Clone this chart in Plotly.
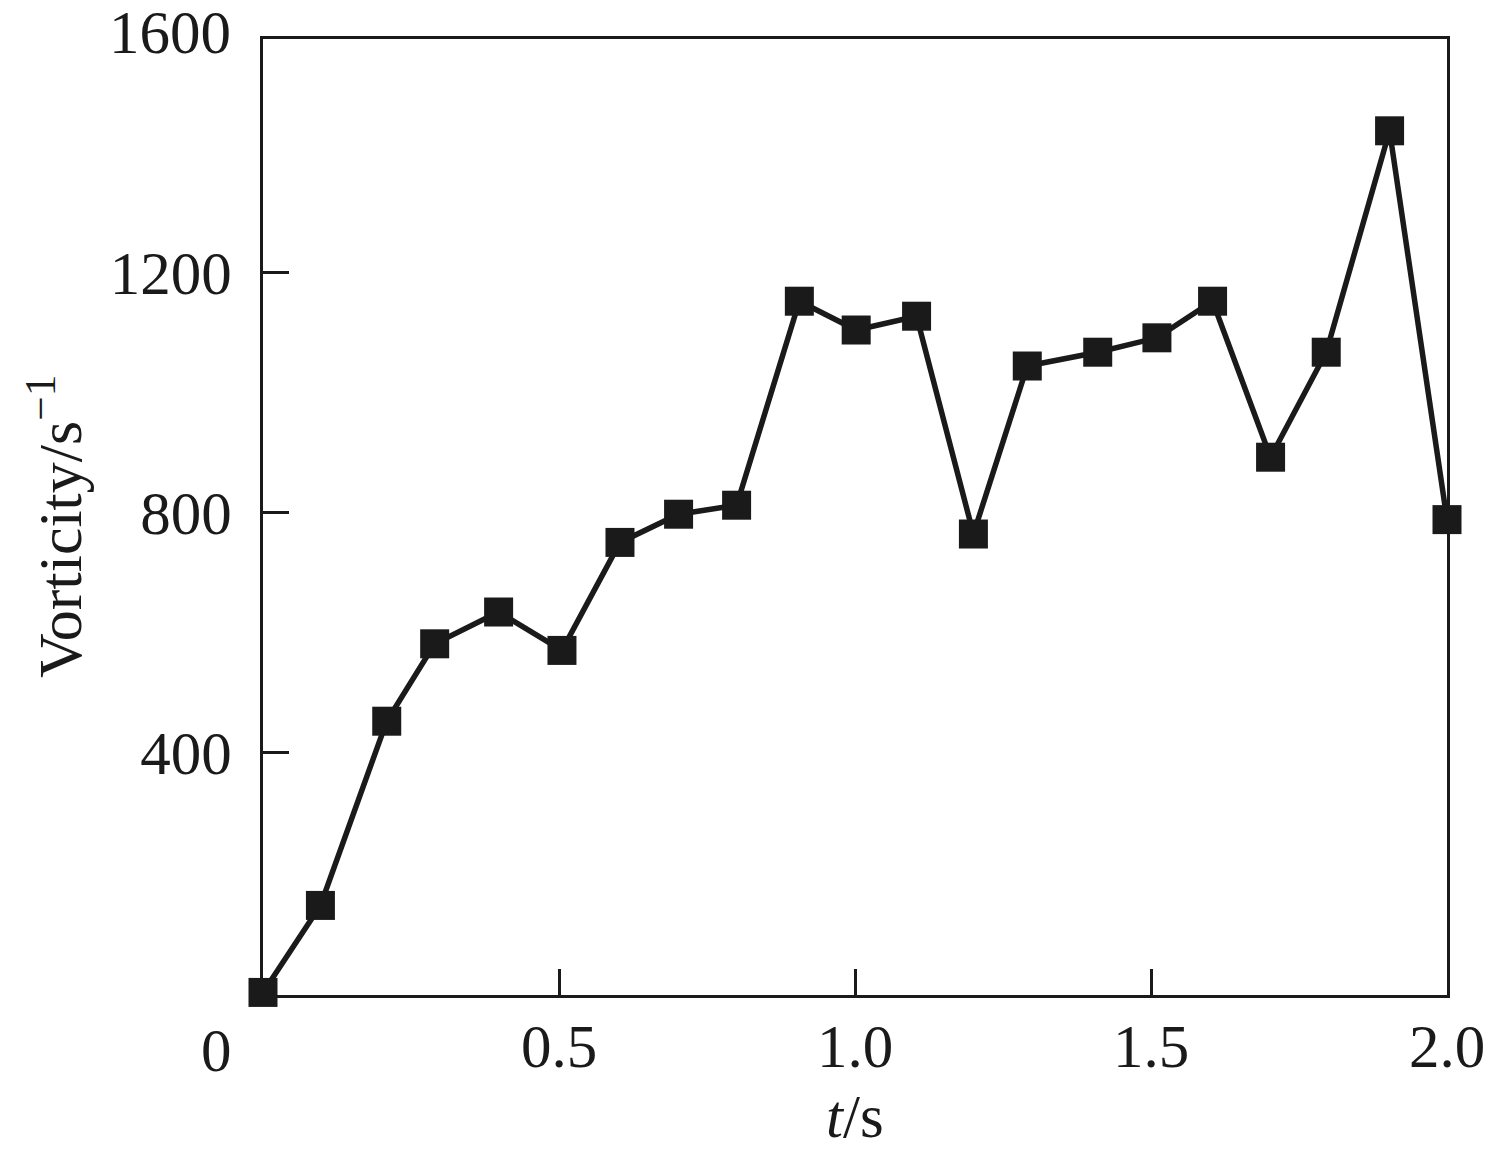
import plotly.graph_objects as go

# Data
t_values = [0.0, 0.097, 0.209, 0.290, 0.398, 0.505, 0.603, 0.702, 0.800, 0.906, 1.002,
            1.104, 1.200, 1.291, 1.410, 1.510, 1.604, 1.702, 1.796, 1.903, 2.0]
vorticity = [0, 145, 452, 581, 634, 570, 750, 797, 812, 1152, 1104,
             1127, 764, 1044, 1067, 1091, 1152, 892, 1067, 1436, 788]

x_tickvals = [0.5, 1.0, 1.5, 2.0]
x_ticktext = ["0.5", "1.0", "1.5", "2.0"]
y_tickvals = [400, 800, 1200]
y_ticktext = ["400", "800", "1200"]

INK = "#1a1a1a"
FONT = "Liberation Serif, Times New Roman, serif"
FS = 61

fig = go.Figure()
fig.add_trace(go.Scatter(
    x=t_values, y=vorticity, mode="lines+markers",
    line=dict(color=INK, width=5.5),
    marker=dict(symbol="square", size=29, color=INK, line=dict(width=0)),
    cliponaxis=False, showlegend=False,
))

fig.update_layout(
    width=1497, height=1155,
    margin=dict(l=263, r=45, t=39, b=160),
    paper_bgcolor="white", plot_bgcolor="white",
    font=dict(family=FONT, size=FS, color=INK),
    xaxis=dict(
        range=[0, 2.0], showgrid=False, zeroline=False,
        showline=True, linecolor=INK, linewidth=3, mirror=True,
        ticks="inside", ticklen=26, tickwidth=3, tickcolor=INK,
        tickvals=x_tickvals, ticktext=x_ticktext,
        tickfont=dict(family=FONT, size=FS, color=INK),
        ticklabelstandoff=-4,
    ),
    yaxis=dict(
        range=[-4.3, 1589], showgrid=False, zeroline=False,
        showline=True, linecolor=INK, linewidth=3, mirror=True,
        ticks="inside", ticklen=26, tickwidth=3, tickcolor=INK,
        tickvals=y_tickvals, ticktext=y_ticktext,
        tickfont=dict(family=FONT, size=FS, color=INK),
        ticklabelstandoff=16,
    ),
)

annotations = [
    # origin label "0"
    dict(text="0", x=0, xref="paper", y=0, yref="paper", xshift=-47, yshift=-55,
         xanchor="center", yanchor="middle", showarrow=False,
         font=dict(family=FONT, size=FS, color=INK)),
    # top y label "1600"
    dict(text="1600", x=0, xref="paper", y=1, yref="paper", xshift=-30, yshift=7,
         xanchor="right", yanchor="middle", showarrow=False,
         font=dict(family=FONT, size=FS, color=INK)),
    # x-axis title
    dict(text="<i>t</i>/s", x=0.5, xref="paper", y=0, yref="paper", yshift=-121,
         xanchor="center", yanchor="middle", showarrow=False,
         font=dict(family=FONT, size=FS, color=INK)),
    # y-axis title
    dict(text="Vorticity/s<sup>−1</sup>", x=0, xref="paper", y=0.5, yref="paper",
         xshift=-208, yshift=-10, textangle=-90,
         xanchor="center", yanchor="middle", showarrow=False,
         font=dict(family=FONT, size=FS + 1, color=INK)),
]
fig.update_layout(annotations=annotations)

fig.write_html("out.html", config={"displayModeBar": False},
               post_script="document.body.style.margin='0';")
